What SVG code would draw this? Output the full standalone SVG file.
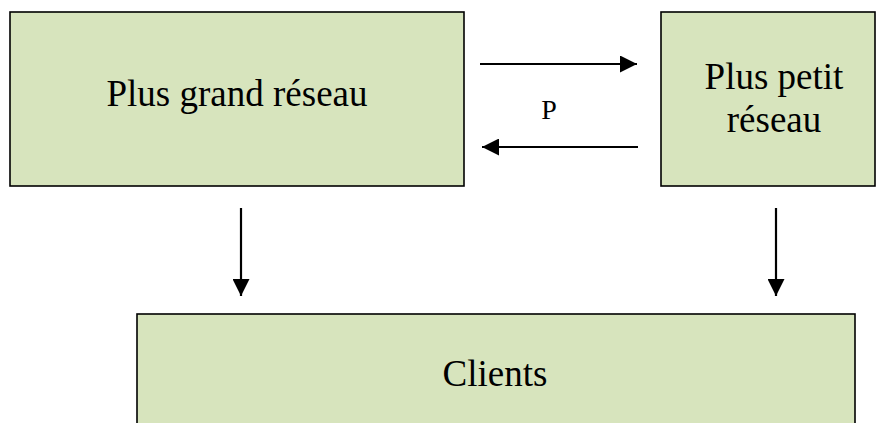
<svg xmlns="http://www.w3.org/2000/svg" width="877" height="423" viewBox="0 0 877 423">
<style>
.box{fill:#d7e4bd;stroke:#000;stroke-width:1.6}
.lbl{font-family:"Liberation Serif","Times New Roman",serif;font-size:37px;fill:#000;text-anchor:middle}
.small{font-size:28px}
.conn{stroke:#000;stroke-width:2.2;fill:none;marker-end:url(#ah)}
</style>
<defs>
<marker id="ah" markerUnits="userSpaceOnUse" markerWidth="17" markerHeight="17" viewBox="0 0 16 16" refX="16" refY="8" orient="auto">
<path d="M0,0 L16,8 L0,16 Z" fill="#000"/>
</marker>
</defs>
<rect width="877" height="423" fill="#fff"/>
<g id="node-grand">
<rect class="box" x="10" y="12" width="454" height="174"/>
<text class="lbl" x="237" y="106">Plus grand réseau</text>
</g>
<g id="node-petit">
<rect class="box" x="661" y="12" width="214" height="174"/>
<text class="lbl" x="774" y="89">Plus petit</text>
<text class="lbl" x="774" y="132">réseau</text>
</g>
<g id="node-clients">
<rect class="box" x="137" y="314" width="718" height="130"/>
<text class="lbl" x="495" y="386">Clients</text>
</g>
<g id="connectors">
<line class="conn" x1="480" y1="64" x2="637" y2="64"/>
<line class="conn" x1="638" y1="147" x2="482" y2="147"/>
<line class="conn" x1="241" y1="208" x2="241" y2="296"/>
<line class="conn" x1="776" y1="208" x2="776" y2="296"/>
<text class="lbl small" x="549" y="119">P</text>
</g>
</svg>
